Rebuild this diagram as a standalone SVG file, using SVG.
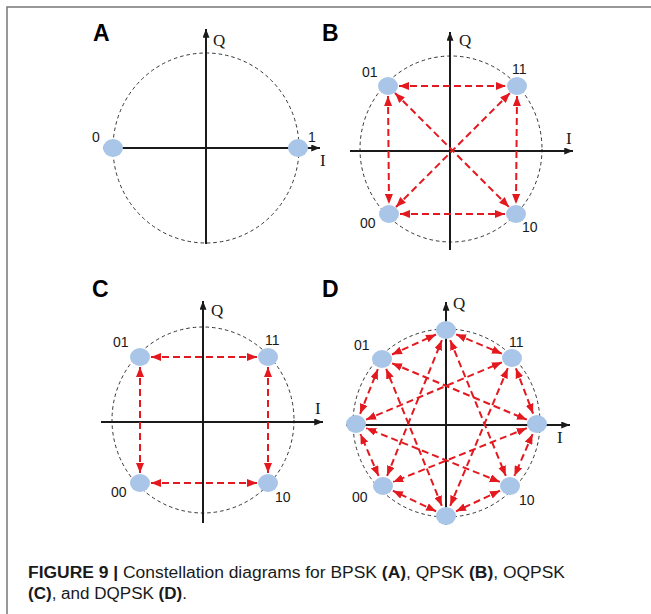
<svg xmlns="http://www.w3.org/2000/svg" width="651" height="614" viewBox="0 0 651 614">
<style>
.ax{stroke:#1a1a1a;stroke-width:2;fill:none}
.cir{stroke:#333;stroke-width:1;stroke-dasharray:3.5 3;fill:none}
.rl{stroke:#e3191f;stroke-width:2;stroke-dasharray:7 4;fill:none;marker-start:url(#ra);marker-end:url(#ra)}
.dot{fill:#a9c6e8}
.pl{font-family:"Liberation Sans",Arial,sans-serif;font-weight:bold;font-size:23px;fill:#000}
.lb{font-family:"Liberation Sans",Arial,sans-serif;font-size:14px;fill:#1a1a1a}
.ax-l{font-family:"Liberation Serif","Times New Roman",serif;font-size:17px;fill:#1a1a1a}
.cap{font-family:"Liberation Sans",Arial,sans-serif;font-size:16px;fill:#1a1a1a}
</style>
<defs>
<marker id="ra" viewBox="0 0 10 8" refX="10" refY="4" markerWidth="10" markerHeight="8" markerUnits="userSpaceOnUse" orient="auto-start-reverse"><path d="M0,0L10,4L0,8z" fill="#e3191f"/></marker>
<marker id="ka" viewBox="0 0 10 8" refX="10" refY="4" markerWidth="9" markerHeight="7" markerUnits="userSpaceOnUse" orient="auto"><path d="M0,0L10,4L0,8z" fill="#1a1a1a"/></marker>
</defs>
<rect width="651" height="614" fill="#fff"/>
<path d="M7,614V7H651" stroke="#777" stroke-width="1.5" fill="none"/>

<!-- Panel A -->
<g id="panelA">
<text class="pl" x="93" y="41">A</text>
<ellipse class="cir" cx="206" cy="148" rx="93" ry="95"/>
<line class="ax" x1="206" y1="244" x2="206" y2="29" marker-end="url(#ka)"/>
<line class="ax" x1="103" y1="148" x2="320" y2="148" marker-end="url(#ka)"/>
<text class="ax-l" x="213" y="46">Q</text>
<text class="ax-l" x="320" y="166">I</text>
</g>
<g id="A-0"><ellipse class="dot" cx="113" cy="148" rx="10" ry="9"/><text class="lb" x="92" y="142">0</text></g>
<g id="A-1"><ellipse class="dot" cx="298" cy="148" rx="10" ry="9"/><text class="lb" x="308" y="142">1</text></g>

<!-- Panel B -->
<g id="panelB">
<text class="pl" x="322" y="41">B</text>
<ellipse class="cir" cx="451" cy="149" rx="91" ry="93"/>
<line class="ax" x1="450" y1="250" x2="450" y2="32" marker-end="url(#ka)"/>
<line class="ax" x1="350" y1="151" x2="573" y2="151" marker-end="url(#ka)"/>
<text class="ax-l" x="459" y="46">Q</text>
<text class="ax-l" x="566" y="144">I</text>
</g>
<g id="connectorsB">
<line class="rl" x1="399" y1="86" x2="506" y2="86"/>
<line class="rl" x1="400" y1="214" x2="505" y2="214"/>
<line class="rl" x1="388" y1="96" x2="389" y2="204"/>
<line class="rl" x1="517" y1="96" x2="516" y2="204"/>
<line class="rl" x1="395" y1="93" x2="509" y2="207"/>
<line class="rl" x1="396" y1="207" x2="510" y2="93"/>
</g>
<g id="B-01"><ellipse class="dot" cx="388" cy="86" rx="10" ry="9"/><text class="lb" x="362" y="77">01</text></g>
<g id="B-11"><ellipse class="dot" cx="517" cy="86" rx="10" ry="9"/><text class="lb" x="512" y="74">11</text></g>
<g id="B-00"><ellipse class="dot" cx="389" cy="214" rx="10" ry="9"/><text class="lb" x="360" y="228">00</text></g>
<g id="B-10"><ellipse class="dot" cx="516" cy="214" rx="10" ry="9"/><text class="lb" x="522" y="232">10</text></g>

<!-- Panel C -->
<g id="panelC">
<text class="pl" x="92" y="297">C</text>
<ellipse class="cir" cx="203" cy="420" rx="91" ry="93"/>
<line class="ax" x1="203" y1="523" x2="203" y2="301" marker-end="url(#ka)"/>
<line class="ax" x1="101" y1="422" x2="323" y2="422" marker-end="url(#ka)"/>
<text class="ax-l" x="211" y="316">Q</text>
<text class="ax-l" x="315" y="414">I</text>
</g>
<g id="connectorsC">
<line class="rl" x1="151" y1="357" x2="257" y2="357"/>
<line class="rl" x1="151" y1="483" x2="257" y2="483"/>
<line class="rl" x1="140" y1="367" x2="140" y2="473"/>
<line class="rl" x1="268" y1="367" x2="268" y2="473"/>
</g>
<g id="C-01"><ellipse class="dot" cx="140" cy="357" rx="10" ry="9"/><text class="lb" x="113" y="347">01</text></g>
<g id="C-11"><ellipse class="dot" cx="268" cy="357" rx="10" ry="9"/><text class="lb" x="265" y="345">11</text></g>
<g id="C-00"><ellipse class="dot" cx="140" cy="483" rx="10" ry="9"/><text class="lb" x="111" y="497">00</text></g>
<g id="C-10"><ellipse class="dot" cx="268" cy="483" rx="10" ry="9"/><text class="lb" x="275" y="502">10</text></g>

<!-- Panel D -->
<g id="panelD">
<text class="pl" x="322" y="297">D</text>
<ellipse class="cir" cx="446.5" cy="423" rx="93.5" ry="94"/>
<line class="ax" x1="446" y1="525" x2="446" y2="302" marker-end="url(#ka)"/>
<line class="ax" x1="346" y1="425" x2="570" y2="425" marker-end="url(#ka)"/>
<text class="ax-l" x="453" y="309">Q</text>
<text class="ax-l" x="557" y="443">I</text>
</g>
<g id="connectorsD">
<line class="rl" x1="456.1" y1="334.3" x2="501.9" y2="353.7"/>
<line class="rl" x1="515.9" y1="368.3" x2="533.1" y2="413.7"/>
<line class="rl" x1="532.6" y1="434.1" x2="514.4" y2="475.9"/>
<line class="rl" x1="500.0" y1="490.7" x2="456.0" y2="511.3"/>
<line class="rl" x1="436.1" y1="511.3" x2="392.9" y2="490.7"/>
<line class="rl" x1="378.6" y1="475.9" x2="360.4" y2="434.1"/>
<line class="rl" x1="360.1" y1="413.8" x2="377.9" y2="369.2"/>
<line class="rl" x1="392.0" y1="354.5" x2="436.0" y2="334.5"/>
<line class="rl" x1="450.2" y1="340.2" x2="505.8" y2="475.8"/>
<line class="rl" x1="507.8" y1="368.2" x2="450.2" y2="505.8"/>
<line class="rl" x1="526.8" y1="428.1" x2="393.2" y2="481.9"/>
<line class="rl" x1="499.8" y1="481.9" x2="366.2" y2="428.1"/>
<line class="rl" x1="441.8" y1="505.8" x2="386.2" y2="368.8"/>
<line class="rl" x1="387.1" y1="475.8" x2="441.9" y2="340.2"/>
<line class="rl" x1="366.1" y1="419.7" x2="501.9" y2="362.3"/>
<line class="rl" x1="392.1" y1="363.3" x2="526.9" y2="419.7"/>
</g>
<g id="D-top"><ellipse class="dot" cx="446" cy="330" rx="10" ry="9"/></g>
<g id="D-11"><ellipse class="dot" cx="512" cy="358" rx="10" ry="9"/><text class="lb" x="509" y="347">11</text></g>
<g id="D-right"><ellipse class="dot" cx="537" cy="424" rx="10" ry="9"/></g>
<g id="D-10"><ellipse class="dot" cx="510" cy="486" rx="10" ry="9"/><text class="lb" x="519" y="505">10</text></g>
<g id="D-bottom"><ellipse class="dot" cx="446" cy="516" rx="10" ry="9"/></g>
<g id="D-00"><ellipse class="dot" cx="383" cy="486" rx="10" ry="9"/><text class="lb" x="352" y="502">00</text></g>
<g id="D-left"><ellipse class="dot" cx="356" cy="424" rx="10" ry="9"/></g>
<g id="D-01"><ellipse class="dot" cx="382" cy="359" rx="10" ry="9"/><text class="lb" x="354" y="350">01</text></g>

<!-- Caption -->
<text class="cap" x="28" y="578" textLength="537" lengthAdjust="spacingAndGlyphs"><tspan font-weight="bold">FIGURE 9 | </tspan>Constellation diagrams for BPSK <tspan font-weight="bold">(A)</tspan>, QPSK <tspan font-weight="bold">(B)</tspan>, OQPSK</text>
<text class="cap" x="28" y="599" textLength="159" lengthAdjust="spacingAndGlyphs"><tspan font-weight="bold">(C)</tspan>, and DQPSK <tspan font-weight="bold">(D)</tspan>.</text>
</svg>
